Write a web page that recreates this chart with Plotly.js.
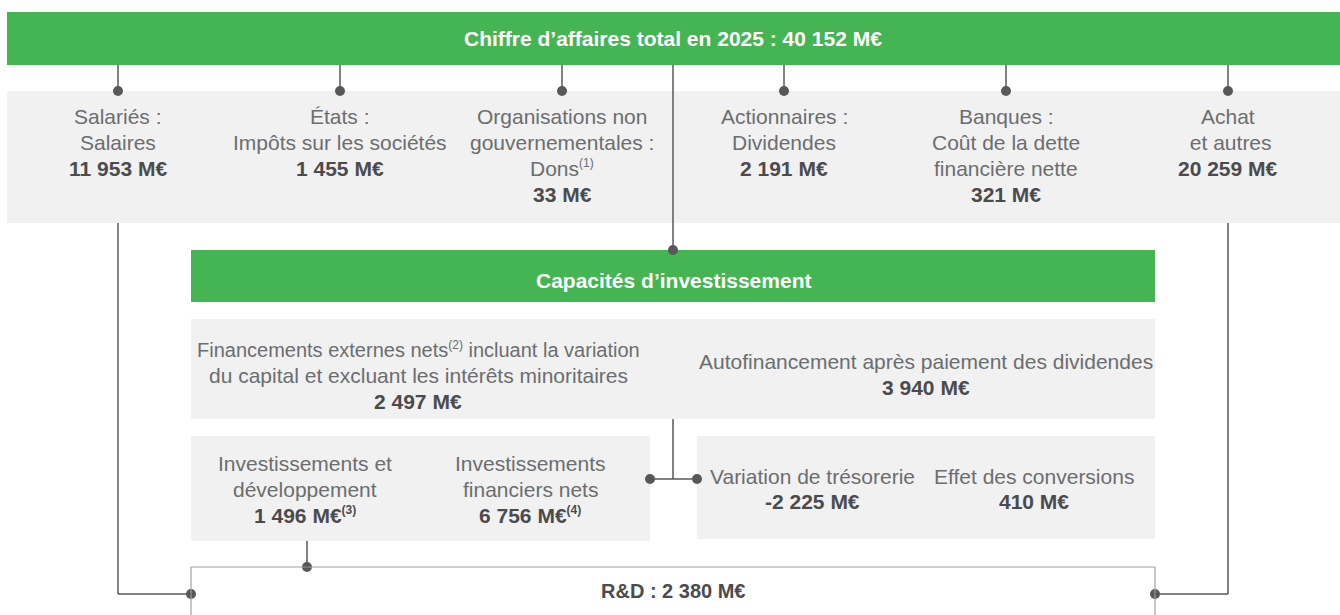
<!DOCTYPE html>
<html>
<head>
<meta charset="utf-8">
<script src="https://cdn.plot.ly/plotly-3.0.1.min.js"></script>
<style>html,body{margin:0;padding:0;background:#fff;}#chart{width:1340px;height:615px;}</style>
</head>
<body>
<div id="chart"></div>
<script>
// ---------- data ----------
const SUP = s => "<sup><span style='font-size:12px'>" + s + "</span></sup>";
const topTitle = "Chiffre d’affaires total en 2025 : 40 152 M€";
const stakeholderLabels = [
  ["Salariés :", "Salaires"],
  ["États :", "Impôts sur les sociétés"],
  ["Organisations non", "gouvernementales :", "Dons" + SUP("(1)")],
  ["Actionnaires :", "Dividendes"],
  ["Banques :", "Coût de la dette", "financière nette"],
  ["Achat", "\u00a0et autres"]
];
const stakeholderValues = ["11 953 M€", "1 455 M€", "33 M€", "2 191 M€", "321 M€", "20 259 M€"];
const capTitle = "Capacités d’investissement";
const fundingLabels = [
  ["Financements externes nets" + SUP("(2)") + " incluant la variation", "du capital et excluant les intérêts minoritaires"],
  ["Autofinancement après paiement des dividendes"]
];
const fundingValues = ["2 497 M€", "3 940 M€"];
const investLabels = [["Investissements et", "développement"], ["Investissements", "financiers nets"]];
const investValues = ["1 496 M€" + SUP("(3)"), "6 756 M€" + SUP("(4)")];
const cashLabels = [["Variation de trésorerie"], ["Effet des conversions"]];
const cashValues = ["-2 225 M€", "410 M€"];
const rdLabel = "R&D : 2 380 M€";

// ---------- layout constants ----------
const W = 1340, H = 615;
const GREEN = "#45b452", GREY = "#f0f1f0", LINE = "#58585a";
const TXT = "#6c6d6f", BOLD = "#4b4b4d";
const FONT = "Liberation Sans, Arial, sans-serif";
const LH = 26;
const colX = [118, 340, 562, 784, 1006, 1228], colFirst = 116;
const fundX = [418, 926], fundFirst = [349, 361];
const investX = [305, 530], investFirst = 463;
const cashX = [812, 1034], cashFirst = 476, cashLH = 25;

const shapes = [];
function rect(x0, y0, x1, y1, fill) {
  shapes.push({type: "rect", xref: "x", yref: "y", x0, y0, x1, y1, fillcolor: fill,
    line: {width: 0}, layer: "below"});
}
function seg(x0, y0, x1, y1, color, w) {
  shapes.push({type: "line", xref: "x", yref: "y", x0, y0, x1, y1,
    line: {color: color || LINE, width: w || 1.5}, layer: "above"});
}

// boxes
rect(7, 12, W, 65, GREEN);
rect(7, 91, W, 223, GREY);
rect(191, 250, 1155, 302, GREEN);
rect(191, 319, 1155, 419, GREY);
rect(191, 436, 650, 541, GREY);
rect(697, 436, 1155, 539, GREY);
// R&D outlined box (open at bottom)
seg(191, 567, 1155, 567, "#9ba1a6", 1.2);
seg(191, 567, 191, H + 5, "#9ba1a6", 1.2);
seg(1155, 567, 1155, H + 5, "#9ba1a6", 1.2);

// connectors
colX.forEach(x => seg(x, 65, x, 91));
seg(673, 65, 673, 250);
seg(118, 223, 118, 594); seg(118, 594, 191, 594);
seg(1228, 223, 1228, 594); seg(1228, 594, 1155, 594);
seg(673, 419, 673, 479); seg(650, 479, 697, 479);
seg(307, 541, 307, 567);

// dots
const dotX = colX.concat([673, 650, 697, 307, 191, 1155]);
const dotY = colX.map(() => 91).concat([250, 479, 479, 567, 594, 594]);

const annotations = [];
function txt(x, y, text, size, color) {
  annotations.push({
    x, y, xref: "x", yref: "y", text, showarrow: false,
    xanchor: "center", yanchor: "middle", align: "center",
    font: {family: FONT, size: size || 21, color: color || TXT}
  });
}
function block(x, first, lines, value, lh, sizes) {
  lh = lh || LH;
  lines.forEach((l, k) => txt(x, first + k * lh, l, (sizes && sizes[k]) || 21, TXT));
  txt(x, first + lines.length * lh, "<b>" + value + "</b>", 21, BOLD);
}

txt(673, 38, "<b>" + topTitle + "</b>", 21, "#ffffff");
txt(673, 280, "<b>" + capTitle + "</b>", 21, "#ffffff");
stakeholderLabels.forEach((l, i) => block(colX[i], colFirst, l, stakeholderValues[i]));
fundingLabels.forEach((l, i) => block(fundX[i], fundFirst[i], l, fundingValues[i], LH, i === 0 ? [20, 21] : null));
investLabels.forEach((l, i) => block(investX[i], investFirst, l, investValues[i]));
cashLabels.forEach((l, i) => block(cashX[i], cashFirst, l, cashValues[i], cashLH));
txt(673, 591, "<b>" + rdLabel + "</b>", 20, BOLD);

const data = [{
  type: "scatter", mode: "markers", x: dotX, y: dotY,
  marker: {size: 10, color: LINE}, hoverinfo: "skip", showlegend: false, cliponaxis: false
}];

const layout = {
  width: W, height: H, margin: {l: 0, r: 0, t: 0, b: 0},
  paper_bgcolor: "#ffffff", plot_bgcolor: "#ffffff",
  xaxis: {range: [0, W], visible: false, fixedrange: true},
  yaxis: {range: [H, 0], visible: false, fixedrange: true},
  shapes, annotations, showlegend: false
};
Plotly.newPlot("chart", data, layout, {displayModeBar: false, staticPlot: true});
</script>
</body>
</html>
